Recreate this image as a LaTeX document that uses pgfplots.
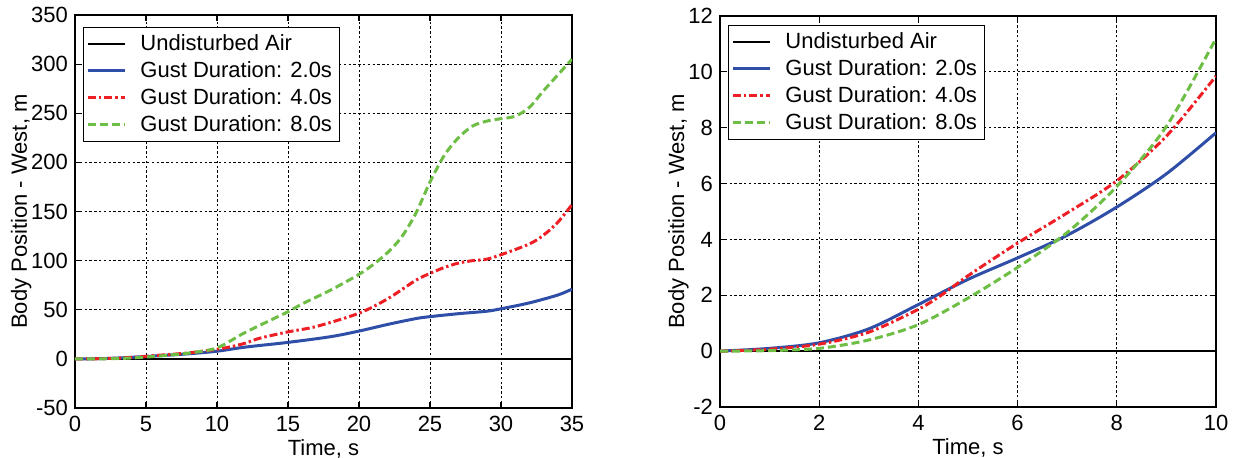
\documentclass[border=0pt]{standalone}
\usepackage{pgfplots}
\pgfplotsset{compat=1.18}
\usepackage{fontspec}
\setmainfont{Liberation Sans}
\definecolor{cblue}{RGB}{46,78,168}
\definecolor{cred}{RGB}{237,30,36}
\definecolor{cgreen}{RGB}{110,190,70}
\pgfplotsset{
  mystyle/.style={
    scale only axis,
    anchor=south west,
    axis line style={line width=1.1pt},
    every tick/.style={black,line width=0.6pt},
    major tick length=3pt,
    tick align=inside,
    xtick pos=both, ytick pos=both,
    grid=major,
    major grid style={black, line width=0.4pt, dash pattern=on 1.2pt off 1.2pt},
    /pgf/number format/assume math mode=true,
    tick label style={font=\fontsize{11}{12}\selectfont},
    label style={font=\fontsize{11}{12}\selectfont},
    xlabel={Time, s},
    ylabel={Body Position - West, m},
    xlabel style={yshift=3pt},
    ylabel style={yshift=-7pt},
    xticklabel style={yshift=-0.5pt},
    legend cell align=left,
    legend style={font=\fontsize{11}{13}\selectfont, draw=black, line width=0.5pt,
      row sep=0pt, inner sep=1.5pt, anchor=north west,
      /tikz/every odd column/.append style={column sep=5pt},
      /tikz/every even column/.append style={column sep=0pt}},
    legend image code/.code={\draw[#1] (0.1cm,0cm) -- (0.75cm,0cm);},
  },
  sblack/.style={black, line width=1pt},
  sblue/.style={cblue, line width=1.5pt, smooth},
  sred/.style={cred, line width=1.5pt, smooth, dash pattern=on 4pt off 1.5pt on 1.2pt off 1.5pt},
  sgreen/.style={cgreen, line width=1.5pt, smooth, dash pattern=on 4pt off 2pt},
}
\begin{document}
\begin{tikzpicture}
\path[use as bounding box] (-37.5pt,-24.5pt) rectangle (580pt,204pt);
\begin{axis}[mystyle, at={(0pt,0pt)}, width=248.5pt, height=196.5pt,
  xmin=0, xmax=35, ymin=-50, ymax=350,
  xtick={0,5,...,35}, ytick={-50,0,50,...,350},
  legend style={at={(rel axis cs:0.016,0.97)}}]
\addplot[sblack] coordinates {(0,0) (35,0)};
\addplot[sblue] coordinates {(0,0) (2,0.3) (4,1.6) (6,3.3) (8,5.2) (10,7.8) (12,12) (15,16.8) (18,22.6) (20,28.3) (22,35) (24,41) (25,43) (27,46) (29,48.5) (30,51) (32,57) (34,65) (35,71)};
\addplot[sred] coordinates {(0,0) (2,0.25) (4,1.5) (6,3.8) (8,6.1) (10,9.8) (11,12.5) (12,16) (13,21) (15,27.5) (17,33) (20,46.5) (22,61) (24,80) (25,87) (26,93) (27,97.5) (28,100) (29,101.5) (30,106) (32,117) (33,126) (34,139) (35,157)};
\addplot[sgreen] coordinates {(0,0) (2,0.1) (4,0.9) (6,3) (8,5.9) (10,11.2) (12,27) (15,48) (16,56) (18,70) (20,86) (21,96) (22,108) (23,124) (24,148) (25,180) (26,207) (27,225) (28,237) (29,242) (30,244.5) (31,247) (32,256) (33,273) (34,289) (35,305)};
\legend{Undisturbed Air, Gust Duration: 2.0s, Gust Duration: 4.0s, Gust Duration: 8.0s}
\end{axis}
\begin{axis}[mystyle, at={(322.5pt,0.5pt)}, width=248pt, height=195.5pt,
  xmin=0, xmax=10, ymin=-2, ymax=12,
  xtick={0,2,...,10}, ytick={-2,0,...,12},
  legend style={at={(rel axis cs:0.016,0.977)}}]
\addplot[sblack] coordinates {(0,0) (10,0)};
\addplot[sblue] coordinates {(0,0) (1,0.1) (2,0.3) (3,0.8) (4,1.67) (5,2.57) (6,3.34) (7,4.15) (8,5.16) (9,6.35) (10,7.82)};
\addplot[sred] coordinates {(0,0) (1,0.07) (2,0.25) (3,0.68) (4,1.5) (4.5,2.05) (5,2.7) (6,3.87) (7,4.95) (8,6.1) (9,7.7) (10,9.85)};
\addplot[sgreen] coordinates {(0,0) (1,0.02) (2,0.1) (3,0.4) (4,0.95) (5,1.9) (6,3.0) (7,4.25) (8,5.9) (9,8.05) (10,11.2)};
\legend{Undisturbed Air, Gust Duration: 2.0s, Gust Duration: 4.0s, Gust Duration: 8.0s}
\end{axis}
\end{tikzpicture}
\end{document}
